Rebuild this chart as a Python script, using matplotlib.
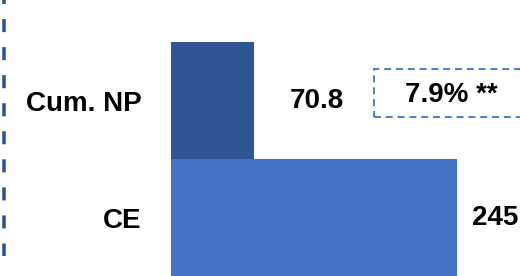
import matplotlib
matplotlib.use("Agg")
import matplotlib.pyplot as plt
from matplotlib.patches import Rectangle
from matplotlib.lines import Line2D

plt.rcParams['font.family'] = ['Liberation Sans', 'DejaVu Sans']
plt.rcParams['lines.scale_dashes'] = False

categories = ["CE", "Cum. NP"]
values = [245, 70.8]
value_labels = ["245", "70.8"]
ratio_label = "7.9% **"

colors = ["#4472C4", "#2F5597"]
label_pad = [11, 26]   # points between bar end and value label

W, H = 520, 276
fig = plt.figure(figsize=(W / 100, H / 100), dpi=100)
ax = fig.add_axes([171 / W, 0, 286 / W, 1])

for i, (cat, val) in enumerate(zip(categories, values)):
    bars = ax.barh(i, val, height=1.0, color=colors[i])
    ax.bar_label(bars, labels=[value_labels[i]], padding=label_pad[i],
                 fontsize=20, fontweight="bold", color="black")

ax.set_xlim(0, 245)
ax.set_ylim(-0.5, 1.86)
ax.set_yticks(range(len(categories)))
ax.set_yticklabels(categories, fontsize=20, fontweight="bold")
ax.tick_params(axis="y", length=0, pad=21)
ax.set_xticks([])
for s in ax.spines.values():
    s.set_visible(False)

# dashed callout box with growth figure
fig.patches.append(Rectangle((374 / W, (H - 117) / H), 160 / W, 48 / H,
                             transform=fig.transFigure, fill=False,
                             edgecolor="#4472C4", linewidth=1.3,
                             linestyle=(0, (5, 3.5))))
fig.text(451 / W, (H - 95) / H, ratio_label, ha="center", va="center",
         fontsize=20, fontweight="bold")

# dashed vertical divider on the left
fig.lines.append(Line2D([3.5 / W, 3.5 / W], [1, (H - 256) / H],
                        transform=fig.transFigure, color="#2F5597",
                        linewidth=2.6, linestyle=(6.5, (9.4, 10.8))))

fig.savefig("out.png", dpi=100)
